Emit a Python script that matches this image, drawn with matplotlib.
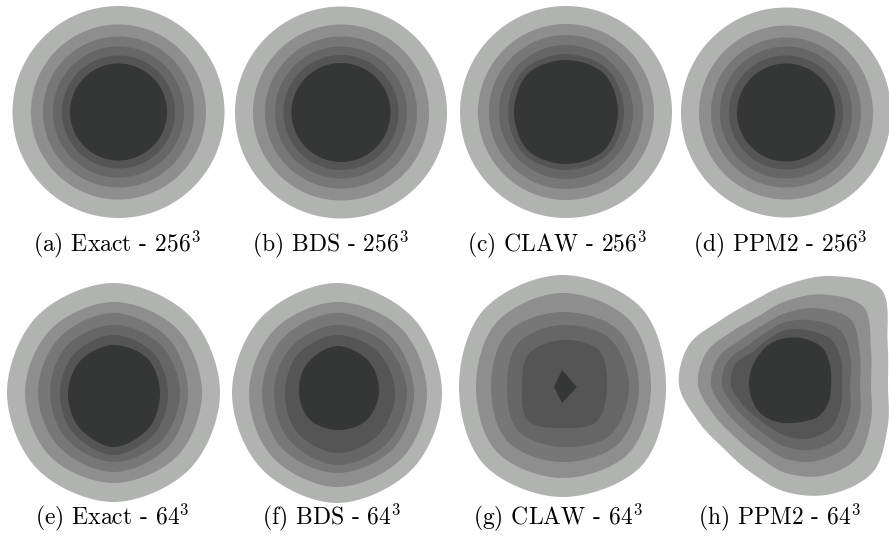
import numpy as np
import matplotlib
matplotlib.use("Agg")
import matplotlib.pyplot as plt

plt.rcParams['font.family'] = 'serif'
plt.rcParams['font.serif'] = ['cmr10']
plt.rcParams['mathtext.fontset'] = 'cm'

# grey shade of each contour band, outermost first
level_colors = ['#b1b3b1', '#8e8e8e', '#777777', '#666666', '#555555', '#353736']

labels = [r'(a) Exact - 256$^3$', r'(b) BDS - 256$^3$', r'(c) CLAW - 256$^3$', r'(d) PPM2 - 256$^3$',
          r'(e) Exact - 64$^3$', r'(f) BDS - 64$^3$', r'(g) CLAW - 64$^3$', r'(h) PPM2 - 64$^3$']
label_x = [117, 330, 557, 780, 112, 332, 558, 779]
label_y = [251, 251, 251, 251, 524, 524, 524, 524]

# centre of each panel's contours (pixels)
centers = [(118.5, 112), (341, 112.5), (566, 112), (786, 112.5),
           (113.5, 392.5), (337, 393), (562, 387), (786, 385)]

# band boundary radii (pixels); a scalar is a circle, a list is read at
# evenly spaced angles counter-clockwise from east
rings_a = [106, 87.5, 75.5, 65.5, 56.5, 48.5]
rings_b = [106, 88, 76, 66, 57.5, 49.5]
rings_c = [106, 88, 77, 67,
           [58, 59.5, 58, 59.5, 58, 59.5, 58, 59.5],
           [52, 54, 52, 54, 52, 54, 52, 54]]
rings_d = [105, 87, 75, 66, 57, 49]
rings_e = [[106.5, 108, 109.5, 108, 106.5, 108, 109.5, 108],
           [88.5, 90, 90.5, 89, 88.5, 90, 90.5, 90],
           [74.5, 77, 79.5, 77, 75.5, 77, 79.5, 77],
           [66.5, 67, 67.5, 66, 63.5, 66, 69.5, 68],
           [54.5, 56, 57.5, 55, 53.5, 57, 62.5, 58],
           [46.5, 48, 47.5, 46, 45.5, 49, 54.5, 50]]
rings_f = [[105, 107, 110, 107, 105, 107, 110, 107],
           [90, 91, 91, 89, 88, 91, 94, 92],
           [77, 78, 80, 77, 75, 78, 80, 79],
           [70, 69, 68, 65, 63, 67, 72, 71],
           [58, 58, 58, 55, 52, 56, 60, 59],
           [42, 45, 47, 42, 38, 38, 37, 40]]
rings_g = [[104, 112, 112, 110, 103, 110, 110, 112],
           [89, 95, 94, 92, 86, 92, 91, 94],
           [77, 80, 75, 77, 71, 77, 75, 80],
           [67, 68, 62, 62, 55, 62, 60, 68],
           [45, 52, 47, 47, 40, 48, 41, 49]]
rings_h = [[102, 110, 135, 118, 100, 90, 92, 105, 107, 95, 89, 94, 107, 118, 123, 110],
           [85, 92, 110, 98, 84, 74, 76, 86, 88, 78, 73, 76, 88, 98, 102, 92],
           [74, 80, 92, 83, 72, 64, 64, 73, 75, 66, 62, 64, 74, 82, 86, 80],
           [64, 70, 77, 70, 63, 56, 55, 63, 64, 56, 52, 54, 62, 70, 74, 69],
           [56, 60, 64, 59, 55, 49, 47, 55, 55, 48, 44, 45, 51, 58, 62, 59],
           [45, 48, 52, 50, 47, 44, 40, 38, 37, 37, 38, 38, 38, 40, 45, 46]]
# small peak in (g): vertex distances E, N, W, S
peak_g = [15, 17, 8, 16]

all_rings = [rings_a, rings_b, rings_c, rings_d, rings_e, rings_f, rings_g, rings_h]


def ring_xy(cx, cy, radii, n=60):
    r = np.atleast_1d(np.asarray(radii, float))
    if r.size == 1:
        th = np.linspace(0, 2 * np.pi, 720, endpoint=False)
        return cx + r[0] * np.cos(th), cy - r[0] * np.sin(th)
    k = r.size
    th = np.arange(k) * 2 * np.pi / k
    pts = np.column_stack([cx + r * np.cos(th), cy - r * np.sin(th)])
    t = np.linspace(0, 1, n, endpoint=False)[:, None]
    out = []
    for i in range(k):
        p0, p1, p2, p3 = pts[(i - 1) % k], pts[i], pts[(i + 1) % k], pts[(i + 2) % k]
        out.append(0.5 * (2 * p1 + (-p0 + p2) * t + (2 * p0 - 5 * p1 + 4 * p2 - p3) * t ** 2
                          + (-p0 + 3 * p1 - 3 * p2 + p3) * t ** 3))
    out = np.vstack(out)
    return out[:, 0], out[:, 1]


fig = plt.figure(figsize=(8.89, 5.39), dpi=100)
ax = fig.add_axes([0, 0, 1, 1])
ax.set_xlim(0, 889)
ax.set_ylim(539, 0)
ax.axis('off')

for (cx, cy), rings in zip(centers, all_rings):
    for lev, radii in enumerate(rings):
        x, y = ring_xy(cx, cy, radii)
        ax.fill(x, y, color=level_colors[lev], lw=0)

# peak in (g) is a straight-sided diamond
cx, cy = centers[6]
ang = np.deg2rad([0, 90, 180, 270])
ax.fill(cx + np.array(peak_g) * np.cos(ang), cy - np.array(peak_g) * np.sin(ang),
        color=level_colors[5], lw=0)

for lab, lx, ly in zip(labels, label_x, label_y):
    ax.text(lx, ly, lab, ha='center', va='baseline', fontsize=17)

fig.savefig('out.png', dpi=100)
